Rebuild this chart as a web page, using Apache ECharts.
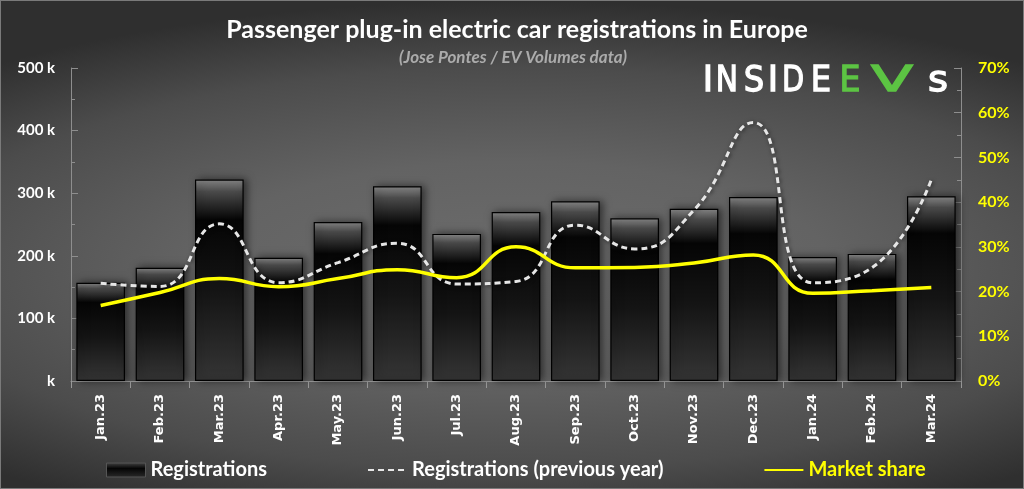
<!DOCTYPE html>
<html>
<head>
<meta charset="utf-8">
<script src="https://cdn.jsdelivr.net/npm/echarts@6/dist/echarts.min.js"></script>
<style>
html,body{margin:0;padding:0;}
#chart{width:1024px;height:489px;box-sizing:border-box;border:1px solid #7a7a7a;
background: radial-gradient(ellipse 78% 55% at 50% 55%, #6c6c6c 0%, #636363 40%, #4c4c4c 75%, #2f2f2f 100%);}
</style>
</head>
<body>
<div id="chart"></div>
<script>
var categories = ['Jan.23','Feb.23','Mar.23','Apr.23','May.23','Jun.23','Jul.23','Aug.23','Sep.23','Oct.23','Nov.23','Dec.23','Jan.24','Feb.24','Mar.24'];
var registrations = [157,181,322,197,254,311,235,270,287,260,275,294,198,203,295];
var prevYear = [156,151,251,157,189,220,155,159,249,211,273,413,157,181,322];
var marketShare = [16.9,19.8,22.9,21.1,22.9,24.9,23.1,30.0,25.3,25.4,26.4,28.2,19.6,20.2,20.9];
var leftTickLabels = ['k','100 k','200 k','300 k','400 k','500 k'];
var rightTickLabels = ['0%','10%','20%','30%','40%','50%','60%','70%'];

var chart = echarts.init(document.getElementById('chart'), null, {renderer:'canvas'});
var baseFont = 'Lato';
var logoLetters = [
  {t:'I', x:707, c:'#ffffff', s:1},
  {t:'N', x:726, c:'#ffffff', s:0.85},
  {t:'S', x:753, c:'#ffffff', s:0.92},
  {t:'I', x:772, c:'#ffffff', s:1},
  {t:'D', x:792, c:'#ffffff', s:0.82},
  {t:'E', x:820, c:'#ffffff', s:0.92},
  {t:'E', x:849, c:'#5cc443', s:0.95},
  {t:'V', x:891, c:'#5cc443', s:1.75},
  {t:'s', x:937, c:'#ffffff', s:1.1}
];
var graphics = [
  {type:'text', x:516, y:29, style:{text:'Passenger plug-in electric car registrations in Europe', fill:'#ffffff', font:'bold 25px Lato', textAlign:'center', textVerticalAlign:'middle'}},
  {type:'text', x:512, y:57, style:{text:'(Jose Pontes / EV Volumes data)', fill:'#ababab', font:'italic bold 17px Lato', textAlign:'center', textVerticalAlign:'middle'}}
];
logoLetters.forEach(function(l){
  graphics.push({type:'text', x:l.x, y:81, scaleX:l.s, style:{text:l.t, fill:l.c, stroke:l.c, lineWidth:1.3, font:'35px "DejaVu Sans"', textAlign:'center', textVerticalAlign:'middle'}});
});

var option = {
  animation:false,
  backgroundColor:'transparent',
  graphic: graphics,
  grid:{left:70, right:62, top:67, bottom:107},
  legend:{
    left:100, top:454, itemWidth:39, itemHeight:14, itemGap:100,
    textStyle:{color:'#ffffff', fontFamily:baseFont, fontWeight:'bold', fontSize:20},
    data:[
      {name:'Registrations', icon:'rect', itemStyle:{color:{type:'linear',x:0,y:0,x2:0,y2:1,colorStops:[{offset:0,color:'#444'},{offset:0.4,color:'#050505'},{offset:1,color:'#2a2a2a'}]}, borderColor:'#555', borderWidth:1}},
      {name:'Registrations (previous year)', itemStyle:{opacity:0}},
      {name:'Market share', itemStyle:{opacity:0}, textStyle:{color:'#ffff00'}}
    ]
  },
  xAxis:{
    type:'category', data:categories,
    axisLine:{lineStyle:{color:'#9a9a9a', width:1}},
    axisTick:{show:true, alignWithLabel:false, length:7, lineStyle:{color:'#9a9a9a'}},
    axisLabel:{rotate:90, color:'#ffffff', fontFamily:'DejaVu Sans', fontWeight:'bold', fontSize:13, margin:13}
  },
  yAxis:[
    {type:'value', min:0, max:500, interval:100,
     axisLine:{show:true, lineStyle:{color:'#8e8e8e'}},
     axisTick:{show:true, inside:true, length:7, lineStyle:{color:'#8e8e8e'}},
     minorTick:{show:true, splitNumber:2, length:4, lineStyle:{color:'#8e8e8e'}},
     splitLine:{show:false},
     axisLabel:{color:'#ffffff', fontFamily:baseFont, fontWeight:'bold', fontSize:15, margin:16,
       formatter:function(v){return leftTickLabels[Math.round(v/100)];}}
    },
    {type:'value', min:0, max:70, interval:10, position:'right',
     axisLine:{show:true, lineStyle:{color:'#8e8e8e'}},
     axisTick:{show:true, inside:true, length:7, lineStyle:{color:'#8e8e8e'}},
     minorTick:{show:true, splitNumber:2, length:4, lineStyle:{color:'#8e8e8e'}},
     splitLine:{show:false},
     axisLabel:{color:'#ffff00', fontFamily:baseFont, fontWeight:'bold', fontSize:16, margin:17,
       formatter:function(v){return rightTickLabels[Math.round(v/10)];}}
    }
  ],
  series:[
    {name:'Registrations', type:'bar', data:registrations, yAxisIndex:0, barCategoryGap:'18%',
     itemStyle:{
       color:{type:'linear',x:0,y:0,x2:0,y2:1,colorStops:[
         {offset:0,color:'#8c8c8c'},{offset:0.06,color:'#4a4a4a'},{offset:0.2,color:'#050505'},{offset:0.55,color:'#141414'},{offset:1,color:'#353535'}]},
       borderColor:'#000000', borderWidth:1.2,
       shadowColor:'rgba(0,0,0,0.55)', shadowBlur:8, shadowOffsetX:3, shadowOffsetY:0
     }
    },
    {name:'Registrations (previous year)', type:'line', data:prevYear, yAxisIndex:0, smooth:0.5,
     symbol:'none', z:3, itemStyle:{color:'#e6e6e6'},
     lineStyle:{color:'#e6e6e6', width:3, type:[6,4], shadowColor:'rgba(0,0,0,0.6)', shadowBlur:4, shadowOffsetX:1, shadowOffsetY:1}
    },
    {name:'Market share', type:'line', data:marketShare, yAxisIndex:1, smooth:0.5,
     symbol:'none', z:4, itemStyle:{color:'#ffff00'},
     lineStyle:{color:'#ffff00', width:3.5}
    }
  ]
};
chart.setOption(option);
</script>
</body>
</html>
